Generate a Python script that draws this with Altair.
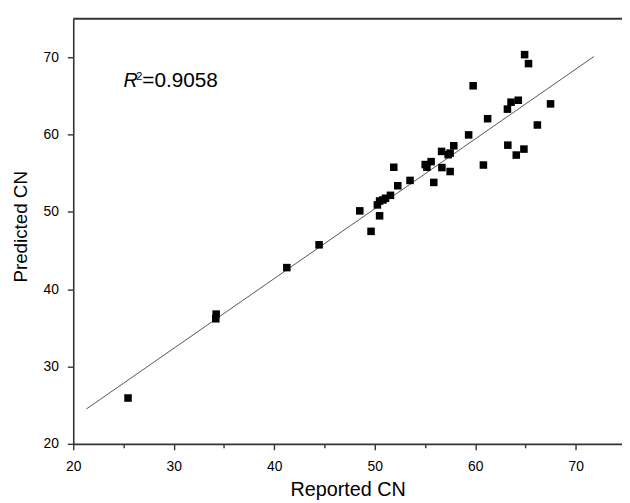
import altair as alt
import pandas as pd

# Reported vs predicted CN
reported = [25.45, 34.22, 34.18, 41.25, 44.46, 48.51, 49.63, 50.26, 50.48, 50.81,
            51.07, 51.56, 50.48, 51.89, 52.29, 53.51, 55.02, 55.19, 55.61, 55.87,
            56.65, 56.68, 57.30, 57.50, 57.86, 57.50, 59.34, 60.81, 61.23, 63.20,
            63.24, 59.79, 63.56, 64.28, 67.49, 66.18, 64.84, 64.08, 64.91, 65.30]
predicted = [25.93, 36.78, 36.18, 42.80, 45.75, 50.14, 47.49, 50.91, 51.42, 51.55,
             51.77, 52.15, 49.50, 55.78, 53.39, 54.08, 56.13, 55.78, 56.51, 53.82,
             57.83, 55.74, 57.41, 57.61, 58.56, 55.23, 59.97, 56.07, 62.06, 63.30,
             58.64, 66.32, 64.20, 64.45, 63.98, 61.25, 58.13, 57.36, 70.35, 69.19]

# regression line end points
fit_x = [21.3, 71.8]
fit_y = [24.5, 70.1]

x_ticks = [20, 25, 30, 35, 40, 45, 50, 55, 60, 65, 70]
y_ticks = [20, 25, 30, 35, 40, 45, 50, 55, 60, 65, 70, 75]

r2_symbol = ["R"]
r2_power = ["2"]
r2_value = ["=0.9058"]

pts = pd.DataFrame({"Reported": reported, "Predicted": predicted})
fit = pd.DataFrame({"Reported": fit_x, "Predicted": fit_y})

FONT = "Liberation Sans"
AX = "#333333"
W, H = 555, 430

xscale = alt.Scale(domain=[20, 74.6], nice=False, zero=False)
yscale = alt.Scale(domain=[20, 75], nice=False, zero=False)

major_tick = {"condition": {"test": "datum.value % 10 === 0", "value": 6}, "value": 4}

xaxis = alt.Axis(title="Reported CN", values=x_ticks,
                 labelExpr="datum.value % 10 === 0 ? datum.label : ''",
                 tickSize=major_tick, labelPadding=10, titlePadding=6,
                 labelFontSize=14, titleFontSize=20, grid=False, labelFlush=False)
yaxis = alt.Axis(title="Predicted CN", values=y_ticks,
                 labelExpr="datum.value % 10 === 0 && datum.value < 75 ? datum.label : ''",
                 tickSize=major_tick, labelPadding=9, titlePadding=13,
                 labelFontSize=14, titleFontSize=19, grid=False, labelFlush=False,
                 titleY=210)

points = alt.Chart(pts).mark_square(size=58, color="black", opacity=1).encode(
    x=alt.X("Reported:Q", scale=xscale, axis=xaxis),
    y=alt.Y("Predicted:Q", scale=yscale, axis=yaxis),
)

line = alt.Chart(fit).mark_line(color="#555555", strokeWidth=1).encode(
    x=alt.X("Reported:Q", scale=xscale),
    y=alt.Y("Predicted:Q", scale=yscale),
)

top = alt.Chart(pd.DataFrame({"a": [0]})).mark_rule(color=AX, strokeWidth=2).encode(
    x=alt.value(0), x2=alt.value(W), y=alt.value(0)
)

ax_x = alt.datum(25.0)
ax_y = alt.datum(66.1)

t_r = alt.Chart(pd.DataFrame({"t": r2_symbol})).mark_text(
    font=FONT, fontSize=20, fontStyle="italic", align="left", baseline="alphabetic", color="black"
).encode(x=ax_x, y=ax_y, text="t:N")
t_2 = alt.Chart(pd.DataFrame({"t": r2_power})).mark_text(
    font=FONT, fontSize=11, align="left", baseline="alphabetic", color="black", dx=13, dy=-8
).encode(x=ax_x, y=ax_y, text="t:N")
t_v = alt.Chart(pd.DataFrame({"t": r2_value})).mark_text(
    font=FONT, fontSize=21, align="left", baseline="alphabetic", color="black", dx=19
).encode(x=ax_x, y=ax_y, text="t:N")

chart = alt.layer(line, points, top, t_r, t_2, t_v).properties(
    width=W, height=H,
    autosize=alt.AutoSizeParams(type="none"),
    padding={"left": 66, "top": 8, "right": 0, "bottom": 56},
).configure_view(stroke=None).configure_axis(
    domainColor=AX, domainWidth=1.6, tickColor=AX, tickWidth=1.4,
    labelFont=FONT, titleFont=FONT, labelColor="black", titleColor="black",
    titleFontWeight="normal",
)

chart.save("out.html", embed_options={"renderer": "svg", "actions": False})
